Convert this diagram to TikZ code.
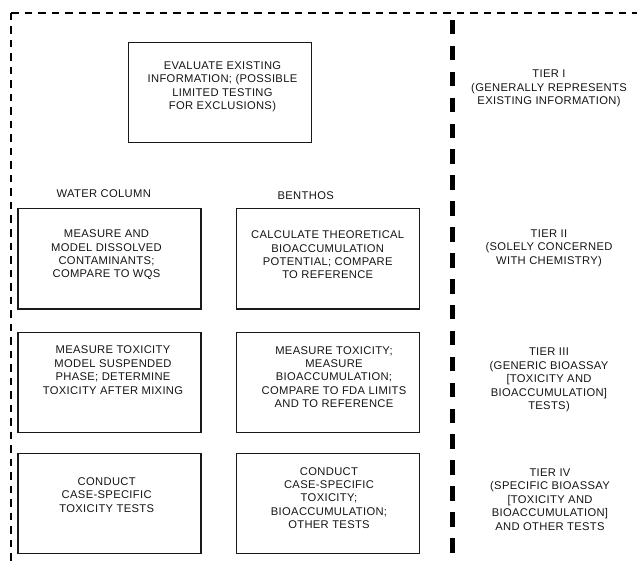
\documentclass[tikz,border=0pt]{standalone}
\usepackage{fontspec}
\setmainfont{Liberation Sans}[LetterSpace=3]
\begin{document}
\begin{tikzpicture}[x=1pt,y=-1pt,
  box/.style={draw=black!90, line width=1.2pt, minimum width=183pt, minimum height=100pt, inner sep=0pt, anchor=north west},
  txt/.style={align=center, inner sep=0pt, text=black!92, font={\fontsize{11.2}{13.4}\selectfont}},
  outer/.style={line width=1.7pt, dash pattern=on 7.5pt off 6pt},
  tierline/.style={line width=5.5pt, dash pattern=on 14.5pt off 11.4pt}]
\useasboundingbox (0,0) rectangle (637,564);
% frame
\coordinate (corner) at (11,13);
\coordinate (frameR) at (637,13);
\coordinate (frameB) at (11,564);
\draw[outer] (corner) -- (frameR);
\draw[outer] (corner) -- (frameB);
\coordinate (tierT) at (452.5,20);
\coordinate (tierB) at (452.5,553);
\draw[tierline] (tierT) -- (tierB);
% boxes
\node[box] (b0) at (127.5,41.7) {};
\node[box] (b1) at (17.3,208.3) {};
\node[box] (b2) at (236,208.3) {};
\node[box] (b3) at (17.3,331.7) {};
\node[box] (b4) at (236,331.7) {};
\node[box] (b5) at (17.3,452.7) {};
\node[box] (b6) at (236,452.7) {};
% box texts
\node[txt] (t0) at (222.5,86.8) {EVALUATE EXISTING\\INFORMATION; (POSSIBLE\\LIMITED TESTING\\FOR EXCLUSIONS)};
\node[txt] (t1) at (106.5,255) {MEASURE AND\\MODEL DISSOLVED\\CONTAMINANTS;\\COMPARE TO WQS};
\node[txt] (t2) at (327.7,255) {CALCULATE THEORETICAL\\BIOACCUMULATION\\POTENTIAL; COMPARE\\TO REFERENCE};
\node[txt] (t3) at (113,370.2) {MEASURE TOXICITY\\MODEL SUSPENDED\\PHASE; DETERMINE\\TOXICITY AFTER MIXING};
\node[txt] (t4) at (334,377) {MEASURE TOXICITY;\\MEASURE\\BIOACCUMULATION;\\COMPARE TO FDA LIMITS\\AND TO REFERENCE};
\node[txt] (t5) at (106.7,495) {CONDUCT\\CASE-SPECIFIC\\TOXICITY TESTS};
\node[txt] (t6) at (329,498) {CONDUCT\\CASE-SPECIFIC\\TOXICITY;\\BIOACCUMULATION;\\OTHER TESTS};
% column labels
\node[txt] (wc) at (103.8,193.3) {WATER COLUMN};
\node[txt] (bn) at (305.7,195.5) {BENTHOS};
% tier texts
\node[txt] (tier1) at (549,88.5) {TIER I\\(GENERALLY REPRESENTS\\EXISTING INFORMATION)};
\node[txt] (tier2) at (549,248.2) {TIER II\\(SOLELY CONCERNED\\WITH CHEMISTRY)};
\node[txt] (tier3) at (549,380) {TIER III\\(GENERIC BIOASSAY\\{[}TOXICITY AND\\BIOACCUMULATION]\\TESTS)};
\node[txt] (tier4) at (550,499.5) {TIER IV\\(SPECIFIC BIOASSAY\\{[}TOXICITY AND\\BIOACCUMULATION]\\AND OTHER TESTS};
\end{tikzpicture}
\end{document}
